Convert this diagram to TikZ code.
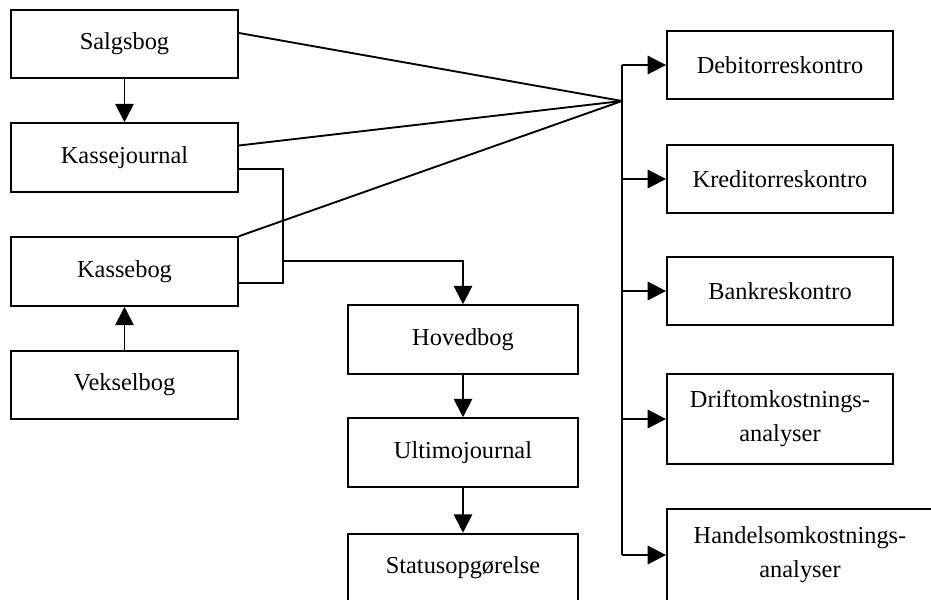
\documentclass[tikz,border=0pt]{standalone}
\usepackage{fontspec}
\setmainfont{Liberation Serif}
\usetikzlibrary{arrows.meta}

\begin{document}
\begin{tikzpicture}[
    x=0.03cm, y=-0.03cm,
    line width=1.6pt,
    box/.style={rectangle, draw, minimum width=6.81cm, minimum height=2.06cm,
      inner sep=0pt, align=center, font=\fontsize{20.8}{29}\selectfont},
    box_mid/.style={box, minimum width=6.9cm},
    box_right/.style={box, minimum width=6.78cm},
    pil/.style={-{Triangle[length=0.55cm,width=0.55cm]}}
  ]
    \useasboundingbox (0,0) rectangle (931,600);
    \clip (0,0) rectangle (931,600);

    % left column
    \node[box] (salgsbog) at (124.5,44) {Salgsbog};
    \node[box] (kasse_journal) at (124.5,157.5) {Kassejournal};
    \node[box] (kassebog) at (124.5,271.5) {Kassebog};
    \node[box] (vekselbog) at (124.5,385) {Vekselbog};

    % middle column
    \node[box_mid] (hovedbog) at (463,339.5) {Hovedbog};
    \node[box_mid] (ultimo_journal) at (463,452.5) {Ultimojournal};
    \node[box_mid] (status) at (463,568) {Statusopgørelse};

    % right column
    \node[box_right] (debitor) at (780,65) {Debitorreskontro};
    \node[box_right] (kreditor) at (780,179) {Kreditorreskontro};
    \node[box_right] (bank) at (780,291) {Bankreskontro};
    \node[box_right, minimum height=2.7cm] (drift) at (780,419)
      {Driftomkostnings-\\analyser};
    \node[box, minimum width=7.98cm, minimum height=2.76cm] (handels) at (800,555)
      {Handelsomkostnings-\\analyser};

    \coordinate (fordeling) at (622,101);
    \coordinate (samle) at (282,261);

    \draw[pil] (salgsbog) -- (kasse_journal);
    \draw[pil] (vekselbog) -- (kassebog);
    \draw[pil] (hovedbog) -- (ultimo_journal);
    \draw[pil] (ultimo_journal) -- (status);

    \draw ([yshift=0.33cm]salgsbog.east) -- (fordeling);
    \draw ([yshift=0.36cm]kasse_journal.east) -- (fordeling);
    \draw (kassebog.north east) -- (fordeling);

    \draw ([yshift=-0.35cm]kasse_journal.east) -- ++(44,0)
      |- ([yshift=-0.35cm]kassebog.east);
    \draw[pil] (samle) -| (hovedbog.north);

    \draw (fordeling |- debitor.west) -- (fordeling |- handels.west);
    \foreach \n in {debitor,kreditor,bank,drift,handels}
      \draw[pil] (fordeling |- \n.west) -- (\n.west);
  \end{tikzpicture}
\end{document}
